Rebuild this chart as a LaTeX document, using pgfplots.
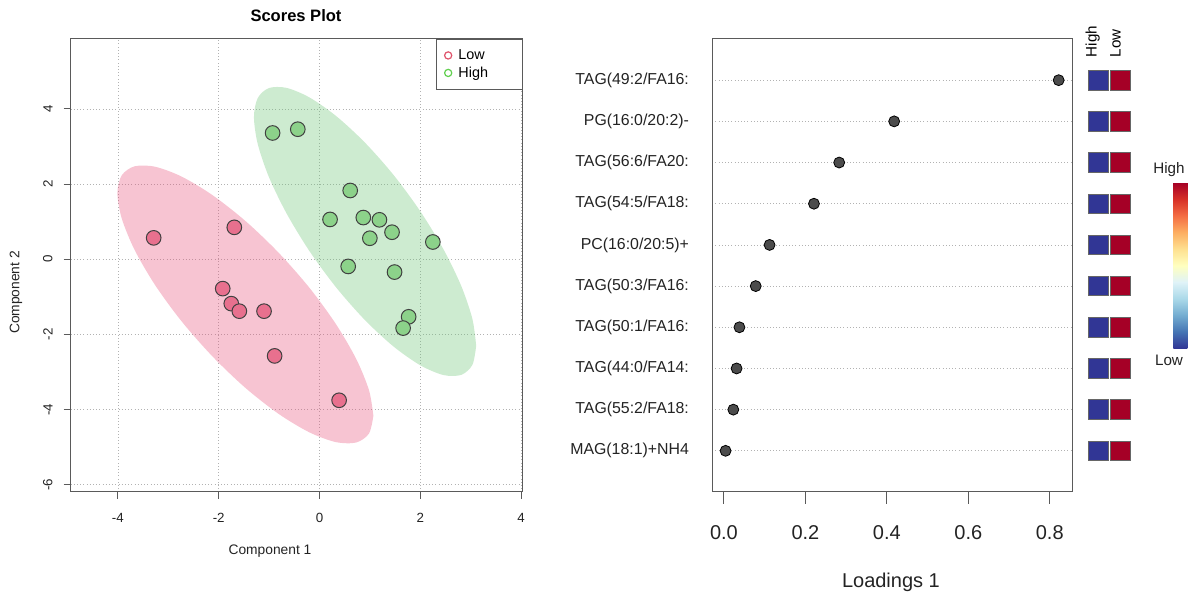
\documentclass[border=0pt]{standalone}
\usepackage{pgfplots}
\usepackage{pgfplotstable}
\pgfplotsset{compat=1.18}
\usepackage{fontspec}
\setmainfont{Liberation Sans}
\usetikzlibrary{calc}

\definecolor{lowc}{RGB}{223,83,107}
\definecolor{highc}{RGB}{97,208,79}
\definecolor{lowell}{RGB}{232,86,126}
\definecolor{highell}{RGB}{112,198,121}
\definecolor{lowpt}{RGB}{232,112,142}
\definecolor{highpt}{RGB}{140,210,138}
\definecolor{frame}{RGB}{90,90,90}
\definecolor{txt}{RGB}{35,35,35}

% PLS-DA scores, component 1 vs component 2
\pgfplotstableread{
x y
-3.29 0.57
-1.69 0.85
-1.92 -0.78
-1.75 -1.18
-1.59 -1.38
-1.10 -1.38
-0.89 -2.57
0.39 -3.75
}\lowscores

\pgfplotstableread{
x y
-0.93 3.36
-0.43 3.46
0.61 1.83
0.21 1.06
0.87 1.11
1.19 1.05
1.44 0.72
1.00 0.56
2.25 0.46
0.57 -0.19
1.49 -0.34
1.77 -1.53
1.66 -1.83
}\highscores

% loadings on component 1, one row per feature (bottom to top)
\pgfplotstableread{
x y
0.004 1
0.023 2
0.031 3
0.038 4
0.078 5
0.112 6
0.221 7
0.283 8
0.418 9
0.822 10
}\loadings

% relative group level of each feature: column 1 = High, column 2 = Low
\pgfplotstableread{
x y v
1 1 0
2 1 1
1 2 0
2 2 1
1 3 0
2 3 1
1 4 0
2 4 1
1 5 0
2 5 1
1 6 0
2 6 1
1 7 0
2 7 1
1 8 0
2 8 1
1 9 0
2 9 1
1 10 0
2 10 1
}\heat

\begin{document}
\begin{tikzpicture}
\useasboundingbox (0,0) rectangle (894pt,444pt);

% ---------------- scores plot ----------------
\begin{axis}[
  at={(52.9pt,75pt)}, anchor=south west,
  scale only axis, width=339pt, height=339.75pt,
  xmin=-4.94, xmax=4.03, ymin=-6.19, ymax=5.86,
  xtick={-4,-2,0,2,4}, xticklabels={-4,-2,0,2,4},
  ytick={-6,-4,-2,0,2,4}, yticklabels={-6,-4,-2,0,2,4},
  tick align=outside, xtick pos=bottom, ytick pos=left,
  major tick length=5.25pt,
  tick style={frame, line width=0.75pt},
  axis line style={frame, line width=0.75pt},
  grid=major, major grid style={dotted, black!30, line width=0.6pt},
  tick label style={font=\fontsize{10}{12}\selectfont, text=txt},
  xticklabel style={yshift=-7.3pt},
  yticklabel style={xshift=-4.7pt, rotate=90, anchor=south},
  legend style={at={(rel axis cs:1,1)}, anchor=north east, draw=frame,
    line width=0.75pt, font=\fontsize{10.8}{12}\selectfont, text=black,
    inner xsep=5.7pt, inner ysep=5.5pt, row sep=0pt, column sep=3pt,
    cells={anchor=west}},
  legend image code/.code={\draw[#1] plot coordinates {(0pt,0pt)};},
]
\addplot[forget plot, draw=none, fill=lowell, fill opacity=0.35, smooth] coordinates {
(1.07,-4.16) (0.983,-3.484) (0.730,-2.653) (0.326,-1.723) (-0.20,-0.757)
(-0.813,0.178) (-1.47,1.02) (-2.127,1.71) (-2.74,2.203) (-3.266,2.463)
(-3.67,2.473) (-3.923,2.234) (-4.01,1.76) (-3.923,1.084) (-3.67,0.253)
(-3.266,-0.677) (-2.74,-1.643) (-2.127,-2.578) (-1.47,-3.42) (-0.813,-4.11)
(-0.20,-4.603) (0.326,-4.863) (0.73,-4.873) (0.983,-4.634) (1.07,-4.16)};
\addplot[forget plot, draw=none, fill=highell, fill opacity=0.35, smooth] coordinates {
(3.11,-2.302) (3.035,-1.587) (2.815,-0.714) (2.464,0.258) (2.008,1.263)
(1.476,2.233) (0.905,3.10) (0.334,3.807) (-0.198,4.305) (-0.654,4.56)
(-1.005,4.554) (-1.225,4.289) (-1.30,3.782) (-1.225,3.067) (-1.005,2.194)
(-0.654,1.222) (-0.198,0.217) (0.334,-0.753) (0.905,-1.62) (1.476,-2.327)
(2.008,-2.825) (2.464,-3.08) (2.815,-3.074) (3.035,-2.809) (3.11,-2.302)};
\addplot[forget plot, only marks, mark=*, mark size=5.5pt,
  mark options={fill=lowpt, draw=black!75, line width=0.75pt}] table {\lowscores};
\addplot[forget plot, only marks, mark=*, mark size=5.5pt,
  mark options={fill=highpt, draw=black!75, line width=0.75pt}] table {\highscores};
\addlegendimage{only marks, mark=o, mark size=2.7pt, mark options={draw=lowc, line width=0.9pt}}
\addlegendentry{\makebox[40pt][l]{Low}}
\addlegendimage{only marks, mark=o, mark size=2.7pt, mark options={draw=highc, line width=0.9pt}}
\addlegendentry{\makebox[40pt][l]{High}}
\end{axis}

% ---------------- loadings plot ----------------
\begin{axis}[
  at={(534.2pt,75pt)}, anchor=south west,
  scale only axis, width=269.8pt, height=339.75pt,
  xmin=-0.0287, xmax=0.8547, ymin=0, ymax=11,
  xtick={0,0.2,0.4,0.6,0.8}, xticklabels={0.0,0.2,0.4,0.6,0.8},
  ytick={1,2,3,4,5,6,7,8,9,10},
  yticklabels={{MAG(18:1)+NH4},{TAG(55:2/FA18:},{TAG(44:0/FA14:},{TAG(50:1/FA16:},
    {TAG(50:3/FA16:},{PC(16:0/20:5)+},{TAG(54:5/FA18:},{TAG(56:6/FA20:},
    {PG(16:0/20:2)-},{TAG(49:2/FA16:}},
  tick align=outside, xtick pos=bottom, ytick pos=left,
  major tick length=9pt,
  xtick style={frame, line width=0.75pt},
  ytick style={draw=none},
  axis line style={frame, line width=0.75pt},
  ymajorgrids, major grid style={dotted, black!30, line width=0.6pt},
  xticklabel style={font=\fontsize{15}{18}\selectfont, text=txt, yshift=-12.6pt},
  yticklabel style={font=\fontsize{11.9}{14}\selectfont, text=txt, anchor=east, xshift=-5pt},
]
\addplot[only marks, mark=*, mark size=4.1pt,
  mark options={fill=black!70, draw=black, line width=0.6pt}] table {\loadings};
\end{axis}

% ---------------- group level squares + colour key ----------------
\begin{axis}[
  at={(815.8pt,75pt)}, anchor=south west,
  scale only axis, width=32.6pt, height=339.75pt,
  xmin=0.5, xmax=2.5, ymin=0, ymax=11, hide axis,
  colormap={rdylbu}{rgb255=(49,54,149) rgb255=(69,117,180) rgb255=(116,173,209)
    rgb255=(171,217,233) rgb255=(224,243,248) rgb255=(255,255,191) rgb255=(254,224,144)
    rgb255=(253,174,97) rgb255=(244,109,67) rgb255=(215,48,39) rgb255=(165,0,38)},
  point meta min=0, point meta max=1,
  colorbar,
  colorbar style={at={($(parent axis.south west)+(55.7pt,232pt)$)}, anchor=north west,
    scale only axis, width=10.5pt, height=124.2pt,
    xtick=\empty, ytick=\empty, axis line style={draw=none}},
]
\addplot[scatter, only marks, mark=square*, mark size=7.3pt, point meta=explicit,
  scatter/use mapped color={draw=black!60, fill=mapped color}, line width=0.6pt]
  table[meta=v] {\heat};
\end{axis}

% ---------------- titles and labels ----------------
\node[font=\bfseries\fontsize{12.4}{14}\selectfont, anchor=base, text=black] at (222pt,428pt) {Scores Plot};
\node[font=\fontsize{10.35}{12}\selectfont, anchor=base, text=txt] at (202.5pt,27.75pt) {Component 1};
\node[font=\fontsize{10.35}{12}\selectfont, rotate=90, anchor=center, text=txt] at (12pt,224.6pt) {Component 2};
\node[font=\fontsize{15}{18}\selectfont, anchor=base, text=txt] at (668.2pt,3.5pt) {Loadings 1};
\node[font=\fontsize{11.4}{13}\selectfont, rotate=90, anchor=base west, inner sep=0pt, text=black] at (822.4pt,401pt) {High};
\node[font=\fontsize{11.4}{13}\selectfont, rotate=90, anchor=base west, inner sep=0pt, text=black] at (840.5pt,401pt) {Low};
\node[font=\fontsize{11.4}{13}\selectfont, text=txt] at (876.75pt,316.5pt) {High};
\node[font=\fontsize{11.4}{13}\selectfont, text=txt] at (876.75pt,174pt) {Low};
\end{tikzpicture}
\end{document}
